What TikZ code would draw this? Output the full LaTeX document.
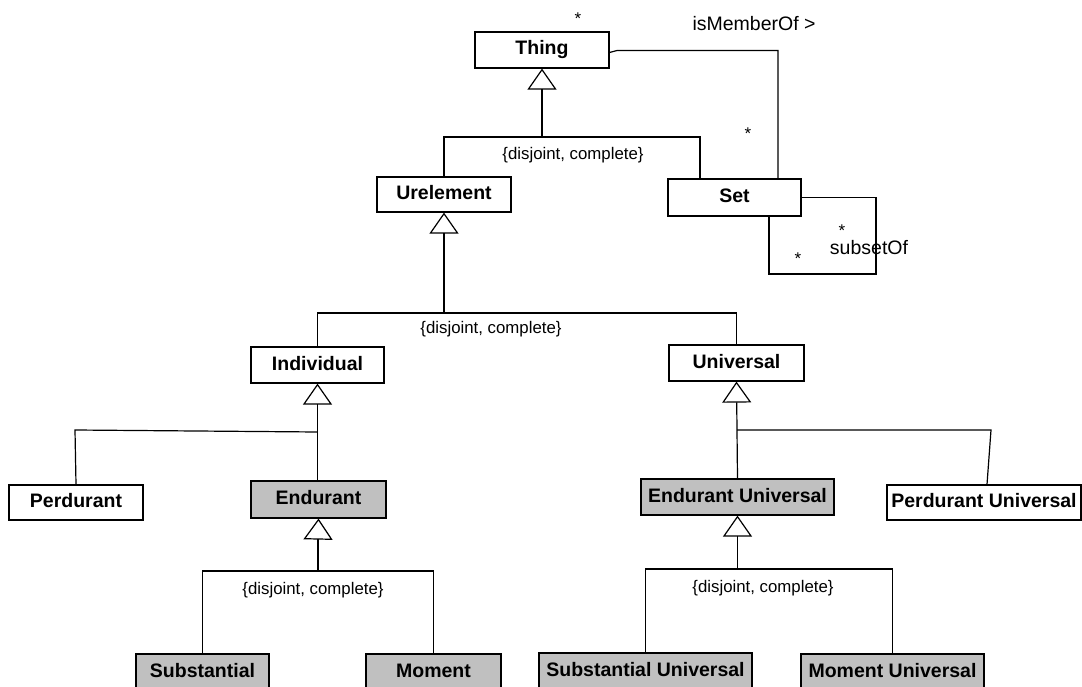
\documentclass[tikz,border=0pt]{standalone}
\usepackage{fontspec}
\setmainfont{Liberation Sans}
\usetikzlibrary{arrows.meta}
\definecolor{boxgray}{HTML}{C0C0C0}
\tikzset{
  cls/.style={draw, line width=1.2pt, inner sep=0pt, text=black,
    font=\fontsize{19.5}{22}\selectfont\bfseries,
    text height=14pt, text depth=4pt},
  kind/.style={cls, fill=boxgray},
  link/.style={line width=1.2pt},
  gen/.style={link, -{Triangle[open, length=21pt, width=29pt]}},
  constraint/.style={font=\fontsize{16.8}{19}\selectfont, inner sep=0pt},
  rolename/.style={font=\fontsize{19.5}{22}\selectfont, inner sep=0pt},
  mult/.style={font=\fontsize{17}{19}\selectfont, inner sep=0pt, anchor=base}
}
\begin{document}
\begin{tikzpicture}[x=1pt, y=-1pt]
\clip (0,0) rectangle (1082,687);
\fill[white] (0,0) rectangle (1082,687);

% classes
\node[cls, minimum width=134pt, minimum height=36pt] (thing) at (542,50) {Thing};
\node[cls, minimum width=133pt, minimum height=37pt] (set) at (734.5,197.5) {Set};
\node[cls, minimum width=134pt, minimum height=35pt] (urel) at (444,194.5) {Urelement};
\node[cls, minimum width=133pt, minimum height=36pt] (indiv) at (317.5,365) {Individual};
\node[cls, minimum width=135pt, minimum height=36pt] (univ) at (736.5,363) {Universal};
\node[cls, minimum width=134pt, minimum height=35pt] (perd) at (76,502.5) {Perdurant};
\node[kind, minimum width=135pt, minimum height=37pt] (endu) at (318.5,499.5) {Endurant};
\node[kind, minimum width=193pt, minimum height=36pt] (enduU) at (737.5,497) {Endurant Universal};
\node[cls, minimum width=194pt, minimum height=35pt] (perdU) at (984,502.5) {Perdurant Universal};
\node[kind, minimum width=133pt, minimum height=36pt] (subst) at (202.5,672) {Substantial};
\node[kind, minimum width=135pt, minimum height=36pt] (mom) at (433.5,672) {Moment};
\node[kind, minimum width=213pt, minimum height=36pt] (substU) at (645.5,671) {Substantial Universal};
\node[kind, minimum width=183pt, minimum height=36pt] (momU) at (892.5,672) {Moment Universal};

% Thing -> {Urelement, Set}
\coordinate (j1) at (542,137);
\draw[gen] (j1) -- (thing.south);
\draw[link] (urel.north) |- (j1) -| ([xshift=-34.5pt]set.north);
\node[constraint] (c1) at (573,155) {\{disjoint, complete\}};

% isMemberOf association
\draw[link] ([yshift=-2.5pt]thing.east) -- (617,50.5) -| ([xshift=43.5pt]set.north);
\node[rolename] (memb) at (754,24) {isMemberOf >};
\node[mult] (m1) at (578,25) {*};
\node[mult] (m2) at (748,140) {*};

% subsetOf self association
\coordinate (loopA) at (876,274);
\draw[link] (set.east) -| (loopA) -| ([xshift=34.5pt]set.south);
\node[rolename] (subs) at (869,248) {subsetOf};
\node[mult] (m3) at (842,237) {*};
\node[mult] (m4) at (798,265) {*};

% Urelement -> {Individual, Universal}
\coordinate (j2) at (444,313);
\draw[gen] (j2) -- (urel.south);
\draw[link] (indiv.north) |- (j2) -| (univ.north);
\node[constraint] (c2) at (491,329) {\{disjoint, complete\}};

% Individual -> {Perdurant, Endurant}
\coordinate (j3) at (317.5,432);
\draw[gen] (endu.north -| indiv.south) -- (indiv.south);
\draw[link] (j3) -- (75,430) -- (perd.north);

% Universal -> {Endurant Universal, Perdurant Universal}
\coordinate (j4) at (737,430);
\draw[gen] (enduU.north) -- (univ.south);
\draw[link] (j4) -- (991,430) -- ([xshift=3pt]perdU.north);

% Endurant -> {Substantial, Moment}; heavier stem below the triangle
\coordinate (j5) at (318,571);
\coordinate (t5) at (318,539);
\draw[link, line width=2.4pt] (j5) -- (t5);
\draw[gen] ([yshift=-3pt]t5) -- (endu.south);
\draw[link] (subst.north) |- (j5) -| (mom.north);
\node[constraint] (c3) at (313,590) {\{disjoint, complete\}};

% Endurant Universal -> {Substantial Universal, Moment Universal}
\coordinate (j6) at (737.5,569);
\draw[gen] (j6) -- (enduU.south);
\draw[link] (substU.north) |- (j6) -| (momU.north);
\node[constraint] (c4) at (763,588) {\{disjoint, complete\}};
\end{tikzpicture}
\end{document}
